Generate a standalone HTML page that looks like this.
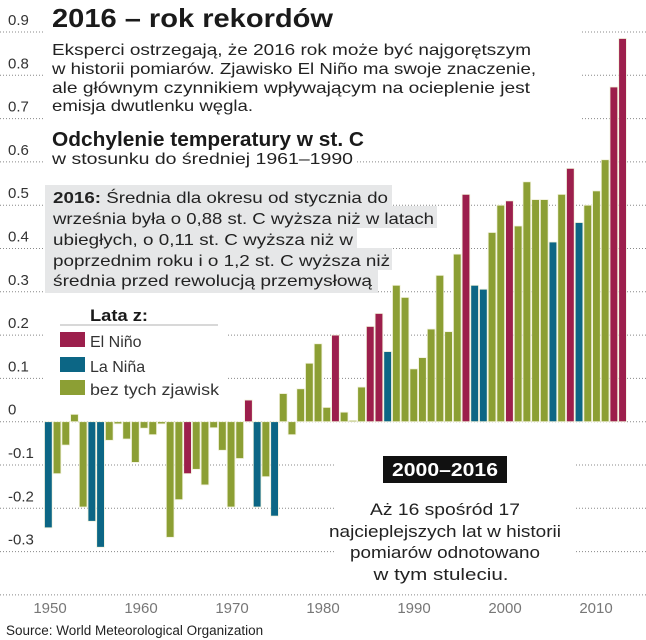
<!DOCTYPE html>
<html><head><meta charset="utf-8"><style>
html,body{margin:0;padding:0;background:#fff;}
svg{display:block;font-family:"Liberation Sans","DejaVu Sans",sans-serif;}
</style></head><body>
<svg id="chart" width="646" height="640" viewBox="0 0 646 640" xmlns="http://www.w3.org/2000/svg">
<g id="grid"></g>
<g id="ylabels"></g>
<g id="bars"></g>
<g id="xlabels"></g>

<g>
<rect x="45" y="0" width="535" height="124" fill="#fff"/>
<text x="52" y="27" font-size="26" font-weight="bold" fill="#1a1a1a" textLength="281" lengthAdjust="spacingAndGlyphs">2016 – rok rekordów</text>
<g font-size="16" fill="#222">
<text x="52" y="55" textLength="479" lengthAdjust="spacingAndGlyphs">Eksperci ostrzegają, że 2016 rok może być najgorętszym</text>
<text x="52" y="74" textLength="484" lengthAdjust="spacingAndGlyphs">w historii pomiarów. Zjawisko El Niño ma swoje znaczenie,</text>
<text x="52" y="93" textLength="478" lengthAdjust="spacingAndGlyphs">ale głównym czynnikiem wpływającym na ocieplenie jest</text>
<text x="52" y="111" textLength="201" lengthAdjust="spacingAndGlyphs">emisja dwutlenku węgla.</text>
</g>
</g>
<g>
<rect x="45" y="124" width="312" height="45" fill="#fff"/>
<text x="52" y="146" font-size="20" font-weight="bold" fill="#1a1a1a" textLength="312" lengthAdjust="spacingAndGlyphs">Odchylenie temperatury w st. C</text>
<text x="52" y="164" font-size="16" fill="#222" textLength="301" lengthAdjust="spacingAndGlyphs">w stosunku do średniej 1961–1990</text>
</g>

<g font-size="16" fill="#222">
<rect x="45" y="185" width="347" height="22" fill="#e6e7e8"/>
<rect x="45" y="206" width="392" height="22" fill="#e6e7e8"/>
<rect x="45" y="227" width="312" height="22" fill="#e6e7e8"/>
<rect x="45" y="248" width="347" height="22" fill="#e6e7e8"/>
<rect x="45" y="269" width="333" height="24" fill="#e6e7e8"/>
<text x="53" y="203" textLength="335" lengthAdjust="spacingAndGlyphs"><tspan font-weight="bold">2016:</tspan> Średnia dla okresu od stycznia do</text>
<text x="53" y="224" textLength="381" lengthAdjust="spacingAndGlyphs">września była o 0,88 st. C wyższa niż w latach</text>
<text x="53" y="245" textLength="300" lengthAdjust="spacingAndGlyphs">ubiegłych, o 0,11 st. C wyższa niż w</text>
<text x="53" y="266" textLength="337" lengthAdjust="spacingAndGlyphs">poprzednim roku i o 1,2 st. C wyższa niż</text>
<text x="53" y="286" textLength="319" lengthAdjust="spacingAndGlyphs">średnia przed rewolucją przemysłową</text>
</g>

<g>
<rect x="45" y="296" width="182" height="106" fill="#fff"/>
<text x="90" y="321" font-size="17" font-weight="bold" fill="#1a1a1a" textLength="58" lengthAdjust="spacingAndGlyphs">Lata z:</text>
<line x1="60" y1="325" x2="218" y2="325" stroke="#ccc" stroke-width="1.5"/>
<g><rect x="60" y="332" width="25" height="15" fill="#9c1f4c"/><text x="90" y="347" font-size="16" fill="#333">El Niño</text></g>
<g><rect x="60" y="357" width="25" height="15" fill="#0c6685"/><text x="90" y="372" font-size="16" fill="#333">La Niña</text></g>
<g><rect x="60" y="380" width="25" height="15" fill="#8c9f34"/><text x="90" y="395" font-size="16" fill="#333" textLength="129" lengthAdjust="spacingAndGlyphs">bez tych zjawisk</text></g>
</g>

<g>
<rect x="336" y="442" width="238" height="148" fill="#fff"/>
<rect x="383" y="456" width="124" height="27" fill="#111"/>
<text x="445" y="476" text-anchor="middle" font-size="18" font-weight="bold" fill="#fff" textLength="106" lengthAdjust="spacingAndGlyphs">2000–2016</text>
<g font-size="17" fill="#222" text-anchor="middle">
<text x="445" y="515" textLength="150" lengthAdjust="spacingAndGlyphs">Aż 16 spośród 17</text>
<text x="445" y="537" textLength="232" lengthAdjust="spacingAndGlyphs">najcieplejszych lat w historii</text>
<text x="445" y="558" textLength="190" lengthAdjust="spacingAndGlyphs">pomiarów odnotowano</text>
<text x="441" y="580" textLength="135" lengthAdjust="spacingAndGlyphs">w tym stuleciu.</text>
</g>
</g>

<text x="6" y="635" font-size="13.5" fill="#222">Source: World Meteorological Organization</text>
</svg>
<script>
const years = [];
for (let y = 1950; y <= 2016; y++) years.push(y);
const anomalies = [
-0.245,-0.12,-0.054,0.017,-0.197,-0.23,-0.29,-0.043,-0.005,-0.04,
-0.094,-0.015,-0.03,-0.005,-0.267,-0.18,-0.12,-0.11,-0.146,-0.014,
-0.066,-0.197,-0.085,0.05,-0.197,-0.127,-0.218,0.065,-0.03,0.076,
0.135,0.18,0.033,0.2,0.022,0.003,0.08,0.22,0.25,0.162,
0.315,0.287,0.122,0.148,0.214,0.338,0.208,0.387,0.525,0.315,
0.306,0.437,0.50,0.51,0.452,0.554,0.513,0.513,0.415,0.525,
0.585,0.46,0.50,0.533,0.605,0.773,0.885];
const phases = [
"L","N","N","N","N","L","L","N","N","N",
"N","N","N","N","N","N","E","N","N","N",
"N","N","N","E","L","N","L","N","N","N",
"N","N","N","E","N","N","N","E","E","L",
"N","N","N","N","N","N","N","N","E","L",
"L","N","N","E","N","N","N","N","L","N",
"E","L","N","N","N","E","E"];
const yTicks = [0.9,0.8,0.7,0.6,0.5,0.4,0.3,0.2,0.1,0,-0.1,-0.2,-0.3,-0.4];
const yTickLabels = ["0.9","0.8","0.7","0.6","0.5","0.4","0.3","0.2","0.1","0","-0.1","-0.2","-0.3",""];
const xTicks = [1950,1960,1970,1980,1990,2000,2010];

const colors = {E:"#9c1f4c", L:"#0c6685", N:"#8c9f34"};
const NS = "http://www.w3.org/2000/svg";
const y0 = 421.7, perUnit = 433;
function yScale(v){ return y0 - v*perUnit; }
const x0 = 44, pitch = 8.7;
function xBand(i){ return x0 + i*pitch; }
function xLabel(yr){ return 50 + (yr-1950)*9.1; }

const grid = document.getElementById('grid');
const ylab = document.getElementById('ylabels');
yTicks.forEach((t,i)=>{
  const l = document.createElementNS(NS,'line');
  
  
  l.setAttribute('x1',0); l.setAttribute('x2',646);
  l.setAttribute('y1',yScale(t)); l.setAttribute('y2',yScale(t));
  l.setAttribute('stroke','#888'); l.setAttribute('stroke-width','1');
  l.setAttribute('stroke-dasharray','1,2');
  grid.appendChild(l);
  const tx = document.createElementNS(NS,'text');
  
  
  tx.setAttribute('x',8); tx.setAttribute('y',yScale(t)-7);
  tx.setAttribute('font-size','15'); tx.setAttribute('fill','#333');
  tx.textContent = yTickLabels[i];
  ylab.appendChild(tx);
});

const bars = document.getElementById('bars');
anomalies.forEach((v,i)=>{
  const r = document.createElementNS(NS,'rect');
  
  
  const top = Math.min(yScale(v), yScale(0));
  r.setAttribute('x',xBand(i)+0.5);
  r.setAttribute('y',top);
  r.setAttribute('width',pitch-1);
  r.setAttribute('height',Math.max(1,Math.abs(yScale(v)-yScale(0))));
  r.setAttribute('fill',colors[phases[i]]);
  r.setAttribute('stroke','#f2f2dc'); r.setAttribute('stroke-width','0.8');
  bars.appendChild(r);
});

const xl = document.getElementById('xlabels');
xTicks.forEach(yr=>{
  const t = document.createElementNS(NS,'text');
  
  
  t.setAttribute('x',xLabel(yr)); t.setAttribute('y',613);
  t.setAttribute('text-anchor','middle');
  t.setAttribute('font-size','15'); t.setAttribute('fill','#777');
  t.textContent = yr;
  xl.appendChild(t);
});
</script>
</body></html>
